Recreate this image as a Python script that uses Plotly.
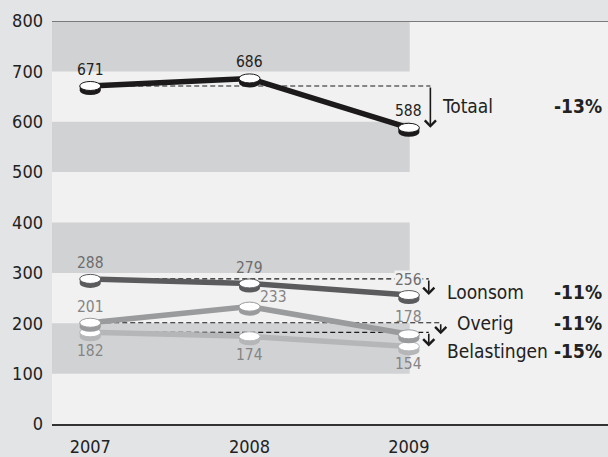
import plotly.graph_objects as go

years = [2007, 2008, 2009]
series_names = ["Totaal", "Loonsom", "Overig", "Belastingen"]
totaal = [671, 686, 588]
loonsom = [288, 279, 256]
overig = [201, 233, 178]
belastingen = [182, 174, 154]
changes = ["-13%", "-11%", "-11%", "-15%"]
y_ticks = [0, 100, 200, 300, 400, 500, 600, 700, 800]
bands = [(100, 200), (300, 400), (500, 600), (700, 800)]

FONT = "DejaVu Sans Condensed, Liberation Sans Narrow, sans-serif"
PAPER = "#e3e4e6"
PLOT = "#f1f1f1"
BAND = "#d1d2d4"

series = [
    dict(name="Belastingen", vals=belastingen, col="#b5b6b8", lab="#858585",
         shifts=[(0, -19), (0, -19), (0, -18)], ax=2009.125, lx=0.707, ly=145),
    dict(name="Overig", vals=overig, col="#9a9b9d", lab="#858585",
         shifts=[(0, 16), (24, 10), (0, 17)], ax=2009.2, lx=0.725, ly=200),
    dict(name="Loonsom", vals=loonsom, col="#5b5b5d", lab="#6d6d6d",
         shifts=[(0, 16), (0, 15), (0, 15)], ax=2009.125, lx=0.707, ly=263),
    dict(name="Totaal", vals=totaal, col="#1c1a1b", lab="#222222",
         shifts=[(0, 16), (0, 16), (0, 17)], ax=2009.135, lx=0.698, ly=631),
]
change_map = dict(zip(series_names, changes))

fig = go.Figure()

for s in series:
    fig.add_trace(go.Scatter(
        x=[years[0], s["ax"]], y=[s["vals"][0], s["vals"][0]],
        mode="lines", line=dict(color="#1a1a1a", width=1.2, dash="5px,3px"),
        hoverinfo="skip", showlegend=False))

for s in series:
    fig.add_trace(go.Scatter(
        x=years, y=s["vals"], mode="lines",
        line=dict(color=s["col"], width=5.5),
        name=s["name"], showlegend=False))

shapes = []
for lo, hi in bands:
    shapes.append(dict(type="rect", xref="x", yref="y", x0=2006.7, x1=years[-1] + 0.005,
                       y0=lo, y1=hi, fillcolor=BAND, line=dict(width=0), layer="below"))
shapes.append(dict(type="line", xref="paper", yref="y", x0=0, x1=1, y0=800, y1=800,
                   line=dict(color="#7a7a7a", width=2), layer="above"))

for s in series:
    for xv, yv in zip(years, s["vals"]):
        common = dict(xref="x", yref="y", xsizemode="pixel", ysizemode="pixel",
                      xanchor=xv, yanchor=yv, layer="above")
        shapes.append(dict(type="circle", x0=-10.5, x1=10.5, y0=-9, y1=0,
                           fillcolor=s["col"], line=dict(width=0), **common))
        shapes.append(dict(type="rect", x0=-10.5, x1=10.5, y0=-4.5, y1=0,
                           fillcolor=s["col"], line=dict(width=0), **common))
        shapes.append(dict(type="circle", x0=-10.5, x1=10.5, y0=-4.5, y1=4.5,
                           fillcolor="white", line=dict(color=s["col"], width=1), **common))

annotations = []
for s in series:
    for i, (xv, yv) in enumerate(zip(years, s["vals"])):
        dx, dy = s["shifts"][i]
        annotations.append(dict(
            x=xv, y=yv, xref="x", yref="y", text=str(yv), showarrow=False,
            xshift=dx, yshift=dy, font=dict(family=FONT, size=15.5, color=s["lab"]),
            bgcolor=PLOT if (s["name"] == "Loonsom" and i == 2) else None,
            borderpad=0))
    annotations.append(dict(
        x=s["ax"], y=s["vals"][-1], ax=s["ax"], ay=s["vals"][0],
        xref="x", yref="y", axref="x", ayref="y", text="", showarrow=True,
        arrowhead=4, arrowwidth=1.6, arrowsize=1.35, arrowcolor="#1a1a1a", standoff=0))
    annotations.append(dict(
        x=s["lx"], y=s["ly"], xref="paper", yref="y", text=s["name"], showarrow=False,
        xanchor="left", font=dict(family=FONT, size=19, color="#222222")))
    annotations.append(dict(
        x=0.992, y=s["ly"], xref="paper", yref="y", text="<b>" + change_map[s["name"]] + "</b>",
        showarrow=False, xanchor="right", font=dict(family=FONT, size=19, color="#222222")))

fig.update_layout(
    width=608, height=457,
    margin=dict(l=52, r=0, t=21, b=28),
    paper_bgcolor=PAPER, plot_bgcolor=PLOT,
    shapes=shapes, annotations=annotations,
    showlegend=False,
    xaxis=dict(range=[2006.76, 2010.25], tickvals=years, ticktext=[str(y) for y in years],
               showgrid=False, zeroline=False, showline=True, linecolor="#333333", linewidth=2,
               ticks="", tickfont=dict(family=FONT, size=18, color="#222222"),
               ticklabelstandoff=5),
    yaxis=dict(range=[0, 800], tickvals=y_ticks, showgrid=False, zeroline=False,
               showline=False, ticks="", tickfont=dict(family=FONT, size=18, color="#222222"),
               ticklabelstandoff=8),
)

fig.write_html("out.html", config={"displayModeBar": False},
               post_script="document.body.style.margin='0';document.body.style.padding='0';document.body.style.overflow='hidden';")
